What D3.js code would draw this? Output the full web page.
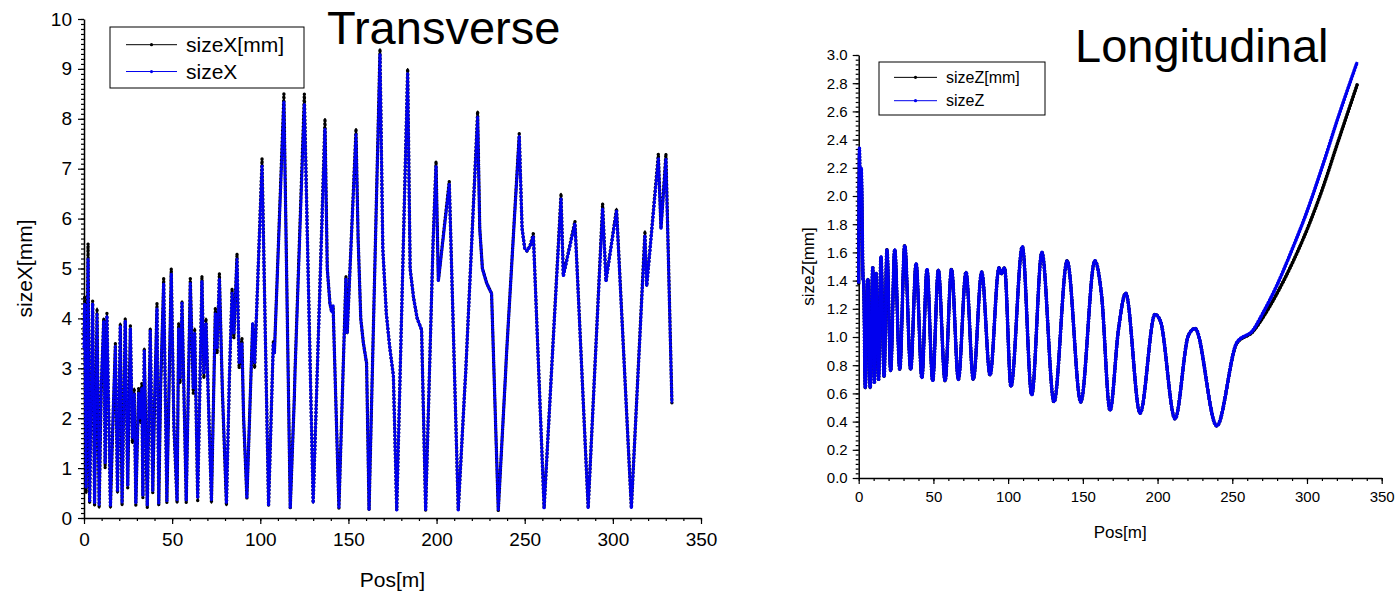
<!DOCTYPE html>
<html>
<head>
<meta charset="utf-8">
<script src="https://cdn.jsdelivr.net/npm/d3@7"></script>
<style>
  body { margin: 0; background: #fff; }
  text { font-family: "Liberation Sans", Arial, sans-serif; fill: #000; }
</style>
</head>
<body>
<div id="chart"></div>
<script>
// Transverse: position [m], sizeX[mm] (black) and sizeX (blue)
const posX = [0, 0.4, 1.2, 2.3, 3.2, 4.0, 4.9, 6.0, 7.4, 8.6, 9.8, 11.2, 12.0, 13.0, 15.0, 16.5, 17.8, 19.0, 20.6, 21.6,
  23.4, 24.8, 26.3, 27.5, 28.5, 29.4, 31.0, 32.0, 32.8, 33.4, 34.2, 35.9, 37.6, 39.0, 40.0, 41.4, 42.4, 43.5, 45.2, 47.0,
  49.5, 51.0, 52.8, 53.7, 54.5, 55.6, 58.0, 60.3, 62.0, 62.8, 64.5, 66.9, 68.0, 69.2, 72.3, 74.5, 75.5, 76.8, 78.5, 80.8,
  82.5, 84.0, 85.0, 86.8, 88.0, 89.6, 90.5, 92.4, 95.7, 96.8, 101.0, 104.7, 107.4, 108.0, 113.4, 117.0, 119.3, 119.7, 125.0, 130.0,
  136.7, 138.0, 139.5, 140.5, 141.3, 144.6, 148.6, 149.3, 154.3, 155.5, 157.0, 158.5, 160.3, 161.7, 167.9, 169.5, 171.5, 173.5, 175.5, 177.4,
  183.6, 185.0, 187.0, 189.0, 191.5, 193.8, 198.0, 199.7, 201.0, 207.2, 212.3, 216.0, 216.5, 223.3, 224.5, 226.0, 228.5, 231.2, 235.0, 239.0,
  239.7, 246.9, 248.5, 250.0, 251.3, 253.0, 254.9, 261.0, 270.6, 271.9, 278.5, 286.0, 294.2, 296.1, 302.1, 310.5, 318.2, 319.2, 325.8, 327.3,
  330.1, 333.5];
const sizeXmm = [3.6, 4.45, 0.5, 5.5, 0.3, 2.2, 4.35, 0.25, 4.2, 0.2, 2.6, 4.0, 1.0, 4.1, 0.2, 2.0, 3.5, 0.5, 3.9, 0.25,
  4.0, 0.6, 3.85, 1.5, 2.6, 0.25, 2.6, 1.9, 2.7, 0.4, 3.4, 0.2, 3.8, 0.5, 2.2, 4.3, 0.25, 2.6, 4.8, 0.3,
  5.0, 1.8, 0.3, 3.9, 2.7, 4.35, 0.3, 4.8, 2.5, 3.8, 0.35, 4.85, 2.8, 4.0, 0.3, 4.2, 3.3, 4.9, 2.5, 0.25,
  2.8, 4.6, 3.6, 5.3, 3.0, 3.6, 2.0, 0.4, 3.9, 3.0, 7.2, 0.25, 3.55, 3.3, 8.5, 0.2, 2.4, 2.95, 8.5, 0.3,
  8.0, 5.0, 4.3, 4.13, 4.25, 0.2, 4.85, 3.7, 7.8, 5.6, 4.0, 3.5, 3.1, 0.16, 9.4, 5.4, 4.1, 3.4, 2.85, 0.16,
  9.0, 5.0, 4.4, 4.0, 3.77, 0.16, 5.5, 7.15, 4.75, 6.75, 0.16, 2.6, 2.9, 8.15, 5.8, 5.0, 4.7, 4.5, 0.15, 2.8,
  3.3, 7.7, 5.8, 5.4, 5.35, 5.45, 5.7, 0.2, 6.5, 4.85, 5.95, 0.2, 6.3, 4.75, 6.2, 0.2, 5.75, 4.65, 7.3, 5.8,
  7.3, 2.3];
const sizeXb = [3.4, 4.3, 0.6, 5.2, 0.35, 2.3, 4.3, 0.3, 4.1, 0.25, 2.7, 3.95, 1.1, 4.05, 0.25, 2.1, 3.45, 0.55, 3.85, 0.3,
  3.95, 0.65, 3.8, 1.6, 2.5, 0.3, 2.5, 2.0, 2.6, 0.45, 3.35, 0.25, 3.75, 0.55, 2.3, 4.2, 0.3, 2.7, 4.7, 0.35,
  4.9, 1.9, 0.35, 3.8, 2.8, 4.3, 0.35, 4.7, 2.6, 3.7, 0.4, 4.75, 2.9, 3.9, 0.35, 4.1, 3.4, 4.8, 2.6, 0.3,
  2.9, 4.5, 3.7, 5.2, 3.1, 3.5, 2.1, 0.4, 3.9, 3.1, 7.05, 0.25, 3.5, 3.3, 8.35, 0.2, 2.4, 2.9, 8.3, 0.3,
  7.8, 5.0, 4.3, 4.13, 4.25, 0.2, 4.8, 3.7, 7.7, 5.6, 4.0, 3.5, 3.1, 0.16, 9.3, 5.4, 4.1, 3.4, 2.85, 0.16,
  8.9, 5.0, 4.4, 4.0, 3.77, 0.16, 5.5, 7.05, 4.75, 6.7, 0.16, 2.6, 2.9, 8.05, 5.8, 5.0, 4.7, 4.5, 0.15, 2.8,
  3.3, 7.65, 5.8, 5.4, 5.35, 5.45, 5.65, 0.2, 6.4, 4.85, 5.9, 0.2, 6.2, 4.75, 6.15, 0.2, 5.65, 4.65, 7.2, 5.8,
  7.2, 2.3];

// Longitudinal: position [m], sizeZ[mm] (black) and sizeZ (blue)
const posZ = [0, 0.5, 1.0, 1.7, 3.0, 3.3, 4.4, 6.2, 7.7, 9.4, 10.5, 11.6, 13.3, 14.9, 17.0, 18.9, 21.4, 24.1, 27.5, 30.8,
  34.8, 38.4, 42.3, 45.7, 49.5, 53.3, 57.8, 62.1, 66.7, 71.8, 76.7, 82.3, 87.9, 93.9, 95.7, 97.6, 101.9, 109.5, 115.8, 122.6,
  130.7, 139.5, 148.6, 158.0, 162.5, 168.2, 173.8, 178.7, 188.3, 198.3, 202.0, 211.7, 220.6, 225.1, 239.6, 253.0, 264.0, 270.0, 280.0, 290.0,
  300.0, 310.0, 320.0, 333.6];
const sizeZmm = [1.38, 2.3, 1.9, 2.15, 1.4, 1.4, 0.64, 1.41, 0.64, 1.49, 0.68, 1.45, 0.7, 1.57, 0.72, 1.62, 0.76, 1.62, 0.77, 1.65,
  0.77, 1.52, 0.71, 1.48, 0.69, 1.475, 0.69, 1.48, 0.7, 1.46, 0.7, 1.46, 0.73, 1.49, 1.45, 1.49, 0.65, 1.64, 0.59, 1.6,
  0.54, 1.54, 0.54, 1.54, 1.3, 0.48, 1.05, 1.31, 0.46, 1.16, 1.11, 0.42, 1.01, 1.06, 0.37, 0.955, 1.04, 1.13, 1.31, 1.52,
  1.76, 2.04, 2.36, 2.79];
const sizeZb = [1.38, 2.34, 1.95, 2.2, 1.4, 1.4, 0.64, 1.41, 0.64, 1.49, 0.68, 1.45, 0.7, 1.57, 0.72, 1.62, 0.76, 1.62, 0.77, 1.65,
  0.77, 1.52, 0.71, 1.48, 0.69, 1.475, 0.69, 1.48, 0.7, 1.46, 0.7, 1.46, 0.73, 1.49, 1.45, 1.49, 0.65, 1.64, 0.59, 1.6,
  0.54, 1.54, 0.54, 1.54, 1.3, 0.48, 1.05, 1.31, 0.46, 1.16, 1.11, 0.42, 1.01, 1.06, 0.37, 0.96, 1.05, 1.16, 1.37, 1.62,
  1.89, 2.2, 2.53, 2.95];

const xTicks = [0, 50, 100, 150, 200, 250, 300, 350];
const yTicksX = [0, 1, 2, 3, 4, 5, 6, 7, 8, 9, 10];
const yTicksZ = [0, 0.2, 0.4, 0.6, 0.8, 1.0, 1.2, 1.4, 1.6, 1.8, 2.0, 2.2, 2.4, 2.6, 2.8, 3.0];

const svg = d3.select('#chart').append('svg')
  .attr('width', 1396)
  .attr('height', 594);

svg.append('rect').attr('width', 1396).attr('height', 594).attr('fill', '#fff');

function panel(o) {
  const g = svg.append('g');
  const x = d3.scaleLinear().domain([0, 350]).range([o.left, o.right]);
  const y = d3.scaleLinear().domain(o.yDomain).range([o.bottom, o.top]);

  // minor ticks
  const xMinor = d3.range(0, 351, 10);
  const yMinor = d3.range(0, o.yDomain[1] + 1e-9, o.yMinorStep);
  g.append('g').attr('transform', `translate(0,${o.bottom})`)
    .call(d3.axisBottom(x).tickValues(xMinor).tickSize(3).tickFormat(''))
    .call(s => s.select('.domain').remove());
  g.append('g').attr('transform', `translate(${o.left},0)`)
    .call(d3.axisLeft(y).tickValues(yMinor).tickSize(3).tickFormat(''))
    .call(s => s.select('.domain').remove());

  // major ticks
  const gx = g.append('g').attr('transform', `translate(0,${o.bottom})`)
    .call(d3.axisBottom(x).tickValues(xTicks).tickSize(6).tickSizeOuter(0).tickPadding(o.xPad));
  const gy = g.append('g').attr('transform', `translate(${o.left},0)`)
    .call(d3.axisLeft(y).tickValues(o.yTicks).tickSize(6).tickSizeOuter(0).tickPadding(o.yPad).tickFormat(o.yFormat));
  [gx, gy].forEach(a => {
    a.select('.domain').attr('stroke-width', 1.5);
    a.selectAll('text').attr('font-size', o.tickFont).attr('font-family', '"Liberation Sans", Arial, sans-serif');
  });
  g.selectAll('.tick line').attr('stroke-width', 1.2);

  // series
  const line = d3.line().x(d => x(d[0])).y(d => y(d[1])).curve(o.curve);
  o.series.forEach(s => {
    const pts = o.pos.map((p, i) => [p, s.values[i]]);
    g.append('path').attr('d', line(pts))
      .attr('fill', 'none').attr('stroke', s.color).attr('stroke-width', o.lineW)
      .attr('stroke-linejoin', 'round');
    g.append('path').attr('d', line(pts))
      .attr('fill', 'none').attr('stroke', s.color).attr('stroke-width', o.dotW)
      .attr('stroke-linecap', 'round').attr('stroke-dasharray', o.dash)
      .attr('stroke-dashoffset', s.offset);
  });

  // axis titles
  g.append('text').attr('x', (o.left + o.right) / 2 + o.xTitleDx).attr('y', o.xTitleY)
    .attr('text-anchor', 'middle').attr('font-size', o.titleFont).text('Pos[m]');
  g.append('text')
    .attr('transform', `translate(${o.yTitleX},${(o.top + o.bottom) / 2}) rotate(-90)`)
    .attr('text-anchor', 'middle').attr('font-size', o.titleFont).text(o.yTitle);

  // chart title
  g.append('text').attr('x', o.headX).attr('y', o.headY)
    .attr('font-size', o.headFont).text(o.head);

  // legend
  const lg = g.append('g');
  lg.append('rect').attr('x', o.leg[0]).attr('y', o.leg[1]).attr('width', o.leg[2]).attr('height', o.leg[3])
    .attr('fill', '#fff').attr('stroke', '#000').attr('stroke-width', 1);
  o.series.forEach((s, i) => {
    const cy = o.leg[1] + o.leg[3] * (i === 0 ? 0.29 : 0.73);
    const lx = o.leg[0] + o.legPad;
    lg.append('line').attr('x1', lx).attr('x2', lx + o.legLine).attr('y1', cy).attr('y2', cy)
      .attr('stroke', s.color).attr('stroke-width', 1);
    lg.append('circle').attr('cx', lx + o.legLine / 2).attr('cy', cy).attr('r', 1.6).attr('fill', s.color);
    lg.append('text').attr('x', lx + o.legLine + 9).attr('y', cy).attr('dy', '0.36em')
      .attr('font-size', o.legFont).text(s.name);
  });
}

panel({
  left: 84, right: 701, bottom: 518, top: 19,
  yDomain: [0, 10], yTicks: yTicksX, yMinorStep: 0.1, yFormat: d3.format('d'),
  tickFont: 19, xPad: 9, yPad: 6,
  pos: posX,
  series: [
    { name: 'sizeX[mm]', color: '#000', values: sizeXmm, offset: 0 },
    { name: 'sizeX', color: '#0000ee', values: sizeXb, offset: 2 }
  ],
  curve: d3.curveLinear, lineW: 1.6, dotW: 3.4, dash: '0.1 3.6',
  titleFont: 21, xTitleY: 587, xTitleDx: 0, yTitleX: 32, yTitle: 'sizeX[mm]',
  head: 'Transverse', headX: 327, headY: 44, headFont: 47,
  leg: [110, 27, 194, 61], legPad: 16, legLine: 51, legFont: 21
});

panel({
  left: 858.7, right: 1381.7, bottom: 478, top: 55,
  yDomain: [0, 3], yTicks: yTicksZ, yMinorStep: 0.2 / 6, yFormat: d3.format('.1f'),
  tickFont: 15, xPad: 7, yPad: 5,
  pos: posZ,
  series: [
    { name: 'sizeZ[mm]', color: '#000', values: sizeZmm, offset: 0 },
    { name: 'sizeZ', color: '#0000ee', values: sizeZb, offset: 1.5 }
  ],
  curve: d3.curveMonotoneX, lineW: 2.8, dotW: 3.6, dash: '0.1 3',
  titleFont: 17, xTitleY: 538, xTitleDx: 0, yTitleX: 814, yTitle: 'sizeZ[mm]',
  head: 'Longitudinal', headX: 1075, headY: 62, headFont: 47,
  leg: [879, 62, 166, 53], legPad: 15, legLine: 43, legFont: 16
});
</script>
</body>
</html>
